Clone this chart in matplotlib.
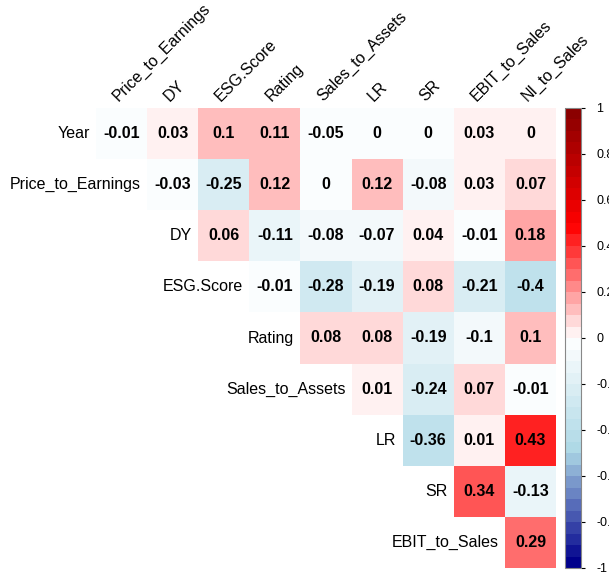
import numpy as np
import matplotlib
matplotlib.use("Agg")
import matplotlib.pyplot as plt
from matplotlib.colors import LinearSegmentedColormap, ListedColormap, Normalize
import matplotlib.colorbar as mcolorbar

plt.rcParams["font.family"] = ["Liberation Sans", "DejaVu Sans"]

row_names = ["Year", "Price_to_Earnings", "DY", "ESG.Score", "Rating",
             "Sales_to_Assets", "LR", "SR", "EBIT_to_Sales"]
col_names = ["Price_to_Earnings", "DY", "ESG.Score", "Rating", "Sales_to_Assets",
             "LR", "SR", "EBIT_to_Sales", "NI_to_Sales"]

# upper triangle, one list per row (values printed as 0 are tiny +/- numbers)
r_year = [-0.01, 0.03, 0.10, 0.11, -0.05, -0.004, -0.004, 0.03, 0.004]
r_pe = [-0.03, -0.25, 0.12, -0.004, 0.12, -0.08, 0.03, 0.07]
r_dy = [0.06, -0.11, -0.08, -0.07, 0.04, -0.01, 0.18]
r_esg = [-0.01, -0.28, -0.19, 0.08, -0.21, -0.40]
r_rating = [0.08, 0.08, -0.19, -0.10, 0.10]
r_sta = [0.01, -0.24, 0.07, -0.01]
r_lr = [-0.36, 0.01, 0.43]
r_sr = [0.34, -0.13]
r_ebit = [0.29]

rows = [r_year, r_pe, r_dy, r_esg, r_rating, r_sta, r_lr, r_sr, r_ebit]
n = len(row_names)
mat = np.full((n, n), np.nan)
for i, vals in enumerate(rows):
    mat[i, i:] = vals
mat = np.ma.masked_invalid(mat)

base = LinearSegmentedColormap.from_list(
    "corr", ["#00008B", "#ADD8E6", "#FFFFFF", "#FF0000", "#8B0000"])
cmap = ListedColormap(base(np.linspace(0, 1, 40)))
norm = Normalize(-1, 1)


def fmt(v):
    s = "%g" % round(v, 2)
    return "0" if s in ("0", "-0") else s


W, H = 609, 576
fig = plt.figure(figsize=(W / 100, H / 100), dpi=100)
ax = fig.add_axes([96 / W, 8 / H, 460 / W, 460 / H])
ax.pcolormesh(np.arange(n + 1) - 0.5, np.arange(n + 1) - 0.5, mat,
              cmap=cmap, norm=norm)
ax.set_xlim(-0.5, n - 0.5)
ax.set_ylim(n - 0.5, -0.5)
ax.axis("off")

for i in range(n):
    for j in range(i, n):
        ax.text(j, i, fmt(mat[i, j]), ha="center", va="center",
                fontsize=11.5, fontweight="bold", color="black")
    ax.text(i - 0.62, i, row_names[i], ha="right", va="center",
            fontsize=11.5, color="black")

for j, name in enumerate(col_names):
    ax.text(j - 0.06, -0.62, name, rotation=45, ha="left", va="baseline",
            rotation_mode="anchor", fontsize=11.5, color="black")

cax = fig.add_axes([565 / W, 8 / H, 16 / W, 460 / H])
cb = mcolorbar.ColorbarBase(cax, cmap=cmap, norm=norm, orientation="vertical")
ticks = np.round(np.arange(-1, 1.01, 0.2), 1)
cb.set_ticks(ticks)
cb.set_ticklabels([fmt(t) for t in ticks])
cb.outline.set_edgecolor("#888888")
cax.tick_params(labelsize=9, length=3, width=0.8, pad=8)

fig.savefig("out.png", dpi=100)
